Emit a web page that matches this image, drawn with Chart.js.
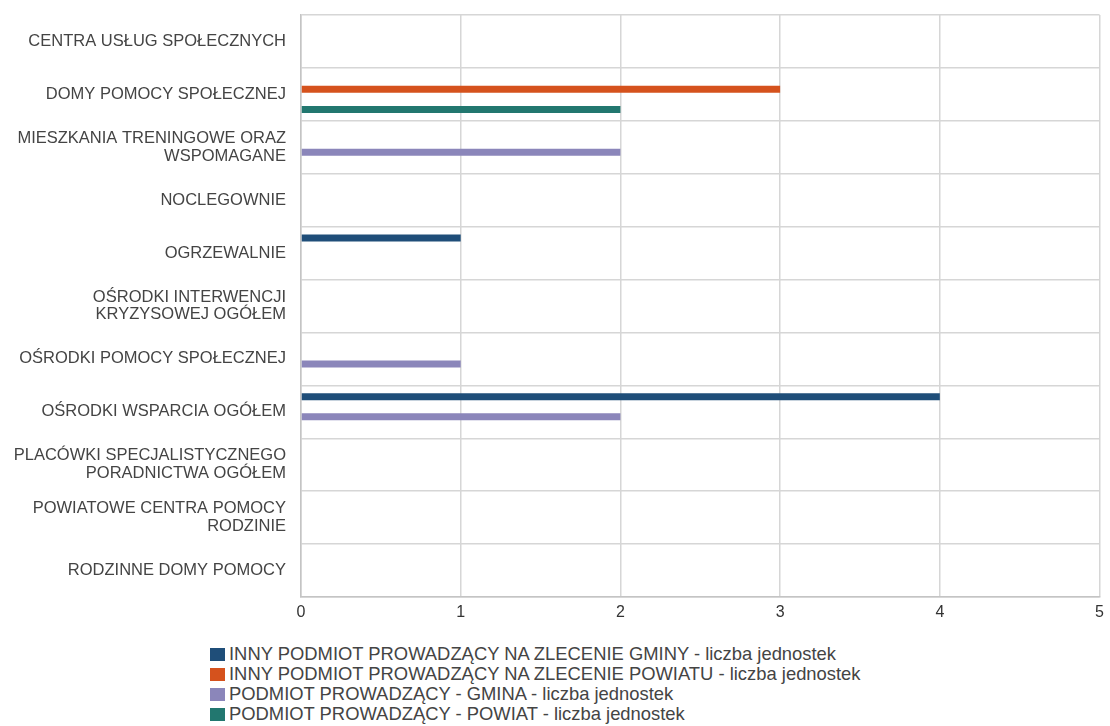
<!DOCTYPE html>
<html>
<head>
<meta charset="utf-8">
<script src="https://cdn.jsdelivr.net/npm/chart.js@4"></script>
<style>
    body { margin: 0; background: #fff; }
    #wrap { position: relative; width: 1110px; height: 726px; }
    #legend {
        position: absolute;
        left: 210px;
        top: 644px;
        font-family: 'Liberation Sans', Arial, sans-serif;
        font-size: 18.4px;
        color: #444;
        line-height: 20px;
    }
    #legend .item { display: flex; align-items: center; white-space: nowrap; }
    #legend .box { width: 15px; height: 13px; margin-right: 4px; }
</style>
</head>
<body>
<div id="wrap">
    <canvas id="chart" width="1110" height="632"></canvas>
    <div id="legend"></div>
</div>
<script>
    const categories = [
        'CENTRA USŁUG SPOŁECZNYCH',
        'DOMY POMOCY SPOŁECZNEJ',
        ['MIESZKANIA TRENINGOWE ORAZ', 'WSPOMAGANE'],
        'NOCLEGOWNIE',
        'OGRZEWALNIE',
        ['OŚRODKI INTERWENCJI', 'KRYZYSOWEJ OGÓŁEM'],
        'OŚRODKI POMOCY SPOŁECZNEJ',
        'OŚRODKI WSPARCIA OGÓŁEM',
        ['PLACÓWKI SPECJALISTYCZNEGO', 'PORADNICTWA OGÓŁEM'],
        ['POWIATOWE CENTRA POMOCY', 'RODZINIE'],
        'RODZINNE DOMY POMOCY'
    ];

    const seriesNames = [
        'INNY PODMIOT PROWADZĄCY NA ZLECENIE GMINY - liczba jednostek',
        'INNY PODMIOT PROWADZĄCY NA ZLECENIE POWIATU - liczba jednostek',
        'PODMIOT PROWADZĄCY - GMINA - liczba jednostek',
        'PODMIOT PROWADZĄCY - POWIAT - liczba jednostek'
    ];

    const innyGminy   = [0, 0, 0, 0, 1, 0, 0, 4, 0, 0, 0];
    const innyPowiatu = [0, 3, 0, 0, 0, 0, 0, 0, 0, 0, 0];
    const gmina       = [0, 0, 2, 0, 0, 0, 1, 2, 0, 0, 0];
    const powiat      = [0, 2, 0, 0, 0, 0, 0, 0, 0, 0, 0];

    const xTicks = [0, 1, 2, 3, 4, 5];

    const colors = ['#1f4e79', '#d5521d', '#8b86ba', '#22776f'];

    const seriesValues = [innyGminy, innyPowiatu, gmina, powiat];

    const data = {
        labels: categories,
        datasets: seriesNames.map(function(name, i) {
            return {
                label: name,
                data: seriesValues[i],
                backgroundColor: colors[i],
                borderWidth: 0,
                categoryPercentage: 0.76,
                barPercentage: 0.7
            };
        })
    };

    // legend as html list under the canvas, one entry per line
    const htmlLegend = {
        id: 'htmlLegend',
        afterUpdate(chart) {
            const box = document.getElementById('legend');
            box.innerHTML = '';
            chart.data.datasets.forEach(function(ds) {
                const item = document.createElement('div');
                item.className = 'item';
                const sw = document.createElement('span');
                sw.className = 'box';
                sw.style.background = ds.backgroundColor;
                const txt = document.createElement('span');
                txt.textContent = ds.label;
                item.appendChild(sw);
                item.appendChild(txt);
                box.appendChild(item);
            });
        }
    };

    const config = {
        type: 'bar',
        data: data,
        plugins: [htmlLegend],
        options: {
            indexAxis: 'y',
            responsive: false,
            animation: false,
            layout: {
                padding: { top: 15, right: 9, left: 0, bottom: 0 }
            },
            plugins: {
                legend: { display: false },
                tooltip: { enabled: false }
            },
            scales: {
                x: {
                    min: 0,
                    max: 5,
                    afterBuildTicks: function(scale) {
                        scale.ticks = xTicks.map(v => ({ value: v }));
                    },
                    afterFit: function(scale) {
                        scale.height = 35;
                    },
                    grid: {
                        color: '#d6d6d6',
                        lineWidth: 1.5,
                        drawTicks: false
                    },
                    border: { color: '#c4c4c4', width: 1.5 },
                    ticks: {
                        padding: 6,
                        color: '#333',
                        font: { family: "'Liberation Sans Narrow', 'Liberation Sans', Arial", size: 16 }
                    }
                },
                y: {
                    afterFit: function(scale) {
                        scale.width = 301;
                        scale.paddingTop = 0;
                        scale.paddingBottom = 0;
                    },
                    grid: {
                        offset: true,
                        color: '#d6d6d6',
                        lineWidth: 1.5,
                        drawTicks: false
                    },
                    border: { color: '#c4c4c4', width: 1.5 },
                    ticks: {
                        padding: 15,
                        color: '#444',
                        autoSkip: false,
                        font: { family: "'Liberation Sans', Arial", size: 16.5, lineHeight: 1.08 }
                    }
                }
            }
        }
    };

    const ctx = document.getElementById('chart').getContext('2d');
    const chart = new Chart(ctx, config);
</script>
</body>
</html>
